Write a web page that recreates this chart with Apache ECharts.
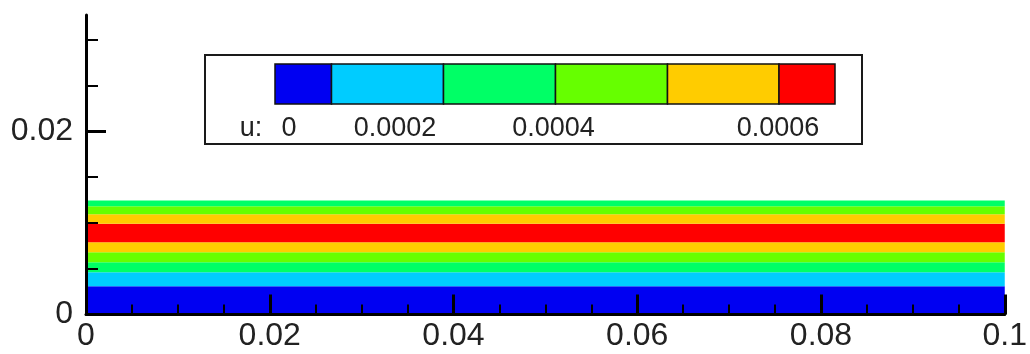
<!DOCTYPE html>
<html>
<head>
<meta charset="utf-8">
<script src="https://cdn.jsdelivr.net/npm/echarts@6/dist/echarts.min.js"></script>
<style>
html,body{margin:0;padding:0;background:#fff;}
#chart{width:1030px;height:354px;}
</style>
</head>
<body>
<div id="chart"></div>
<script>
// ---- data ----
// horizontal contour bands of u (y ranges, lower -> upper)
const bandLower = [0, 0.00309, 0.00462, 0.00572, 0.00681, 0.00790, 0.00991, 0.01096, 0.01184];
const bandUpper = [0.00309, 0.00462, 0.00572, 0.00681, 0.00790, 0.00991, 0.01096, 0.01184, 0.01246];
const bandLevel = [0, 1, 2, 3, 4, 5, 4, 3, 2];
const bandXStart = 0;
const bandXEnd = 0.1;
// contour level colours (legend order)
const levelColors = ['#0000f2', '#00ccff', '#00ff66', '#66ff00', '#ffcc00', '#ff0000'];
// legend labels
const legendTitle = 'u:';
const legendLabels = ['0', '0.0002', '0.0004', '0.0006'];
// axis ticks
const xTicks = [0, 0.02, 0.04, 0.06, 0.08, 0.1];
const yMajorTicks = [0, 0.02];
const yMinorTicks = [0.005, 0.01, 0.015, 0.025, 0.03];

// ---- layout (pixels) ----
const legendBox = {x: 205, y: 55, w: 657, h: 89};
const barBox = {x: 275, y: 64, h: 40};
const boxWidths = [56.5, 112, 112, 112, 111.5, 56];
const labelCenters = [289, 395, 553.5, 778];
const labelY = 128.5;

const chart = echarts.init(document.getElementById('chart'), null, {renderer: 'canvas'});

const bandData = bandLower.map((lo, i) => [bandXStart, bandXEnd, lo, bandUpper[i], bandLevel[i]]);

const graphics = [];
graphics.push({
  type: 'rect', z: 10,
  shape: {x: legendBox.x, y: legendBox.y, width: legendBox.w, height: legendBox.h},
  style: {fill: '#fff', stroke: '#1a1a1a', lineWidth: 2}
});
let bx = barBox.x;
levelColors.forEach((c, i) => {
  graphics.push({
    type: 'rect', z: 11,
    shape: {x: bx, y: barBox.y, width: boxWidths[i], height: barBox.h},
    style: {fill: c, stroke: '#111', lineWidth: 1.5}
  });
  bx += boxWidths[i];
});
const legendFont = '27px "Liberation Sans", Arial, sans-serif';
graphics.push({
  type: 'text', z: 12,
  style: {x: 251, y: labelY, text: legendTitle, font: legendFont, fill: '#222', align: 'center', verticalAlign: 'middle'}
});
legendLabels.forEach((t, i) => {
  graphics.push({
    type: 'text', z: 12,
    style: {x: labelCenters[i], y: labelY, text: t, font: legendFont, fill: '#222', align: 'center', verticalAlign: 'middle'}
  });
});

const axisFont = {fontFamily: '"Liberation Sans", Arial, sans-serif', fontSize: 32, color: '#222'};
const yMax = 0.03273;

chart.setOption({
  animation: false,
  backgroundColor: '#fff',
  grid: {left: 86, right: 23, top: 15, bottom: 39.5},
  xAxis: {
    type: 'value', min: 0, max: 0.1, interval: 0.02, z: 5,
    axisLine: {show: true, onZero: false, lineStyle: {color: '#000', width: 3}},
    axisTick: {show: true, inside: true, length: 20, lineStyle: {color: '#000', width: 3}, customValues: xTicks},
    minorTick: {show: true, splitNumber: 4, length: 10, lineStyle: {color: '#000', width: 2}},
    axisLabel: Object.assign({margin: 6, customValues: xTicks, formatter: v => String(+v.toFixed(4))}, axisFont),
    splitLine: {show: false},
    minorSplitLine: {show: false}
  },
  yAxis: [{
    type: 'value', min: 0, max: yMax, interval: 0.005, z: 5,
    axisLine: {show: true, onZero: false, lineStyle: {color: '#000', width: 3}},
    axisTick: {show: true, inside: true, length: 12, lineStyle: {color: '#000', width: 2}, customValues: yMinorTicks},
    axisLabel: {show: false},
    splitLine: {show: false}
  }, {
    type: 'value', min: 0, max: yMax, interval: 0.005, z: 5, position: 'left',
    axisLine: {show: false},
    axisTick: {show: true, inside: true, length: 20, lineStyle: {color: '#000', width: 3}, customValues: yMajorTicks},
    axisLabel: Object.assign({margin: 13, customValues: yMajorTicks, formatter: v => String(+v.toFixed(4))}, axisFont),
    splitLine: {show: false}
  }],
  series: [{
    type: 'custom',
    z: 1,
    xAxisIndex: 0, yAxisIndex: 0,
    data: bandData,
    encode: {x: [0, 1], y: [2, 3]},
    clip: true,
    renderItem: function (params, api) {
      const p0 = api.coord([api.value(0), api.value(3)]);
      const p1 = api.coord([api.value(1), api.value(2)]);
      return {
        type: 'rect',
        shape: {x: p0[0], y: p0[1], width: p1[0] - p0[0], height: p1[1] - p0[1]},
        style: {fill: levelColors[api.value(4)], stroke: null}
      };
    }
  }],
  graphic: graphics
});
</script>
</body>
</html>
